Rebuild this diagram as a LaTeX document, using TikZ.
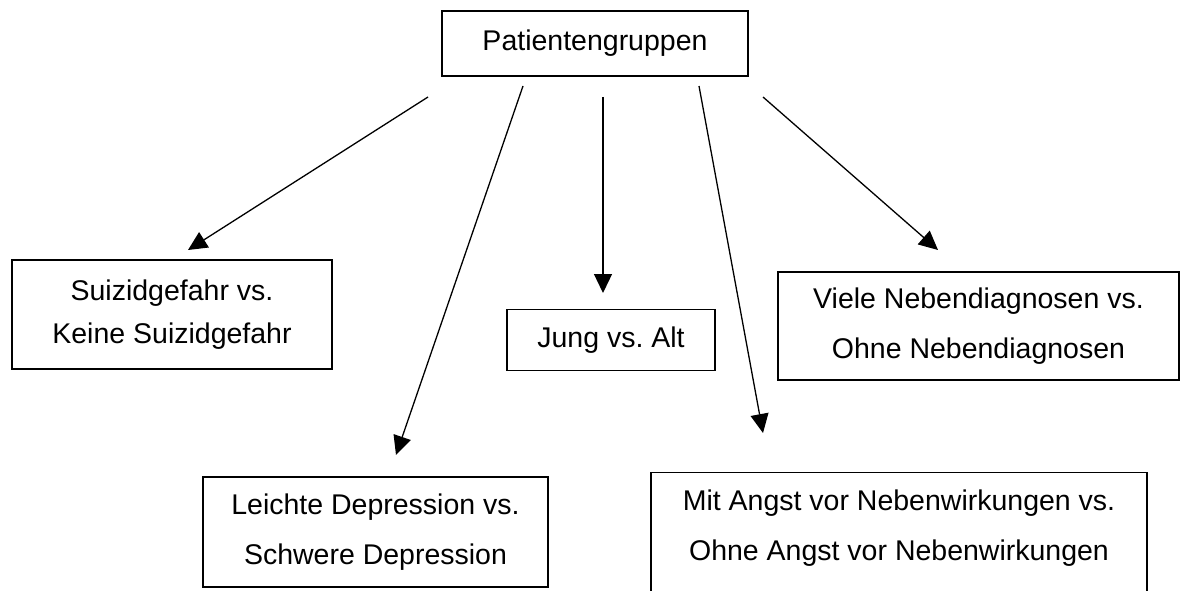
\documentclass[tikz,border=0pt]{standalone}
\usepackage{fontspec}
\setmainfont{Liberation Sans}
\usetikzlibrary{arrows.meta}
\frenchspacing
\begin{document}
\begin{tikzpicture}[x=1pt,y=-1pt,
  box/.style={draw, line width=1.3pt, rectangle, align=center, inner sep=0pt,
    font=\fontsize{28.5}{50}\selectfont},
  conn/.style={line width=1.3pt, -{Triangle[length=19pt,width=18pt]}}]
\useasboundingbox (0,0) rectangle (1181,591);
\clip (0,0) rectangle (1181,591);

% root
\node[box, minimum width=306pt, minimum height=65pt] (root) at (595,43.5) {Patientengruppen};

% groups
\node[box, font=\fontsize{28.5}{43}\selectfont, minimum width=320pt, minimum height=109pt]
  (suizid) at (172,314.5) {Suizidgefahr vs.\\Keine Suizidgefahr};
\node[box, minimum width=345pt, minimum height=110pt]
  (depr) at (375.5,532) {Leichte Depression vs.\\Schwere Depression};
\node[box, minimum width=208pt, minimum height=61pt]
  (alter) at (611,340) {Jung vs. Alt};
\node[box, anchor=north, minimum width=496pt, inner ysep=17pt, text depth=120pt]
  (angst) at (899,472) {Mit Angst vor Nebenwirkungen vs.\\Ohne Angst vor Nebenwirkungen};
\node[box, minimum width=401pt, minimum height=108pt]
  (neben) at (978.5,326) {Viele Nebendiagnosen vs.\\Ohne Nebendiagnosen};

% arrow ends
\coordinate (s1) at (428,97);  \coordinate (t1) at (188,250);
\coordinate (s2) at (523,86);  \coordinate (t2) at (396,455);
\coordinate (s3) at (603,97);  \coordinate (t3) at (603,293);
\coordinate (s4) at (699,86);  \coordinate (t4) at (763,433);
\coordinate (s5) at (763,97);  \coordinate (t5) at (938,250);

\draw[conn] (s1) -- (t1);
\draw[conn] (s2) -- (t2);
\draw[conn] (s3) -- (t3);
\draw[conn] (s4) -- (t4);
\draw[conn] (s5) -- (t5);
\end{tikzpicture}
\end{document}
